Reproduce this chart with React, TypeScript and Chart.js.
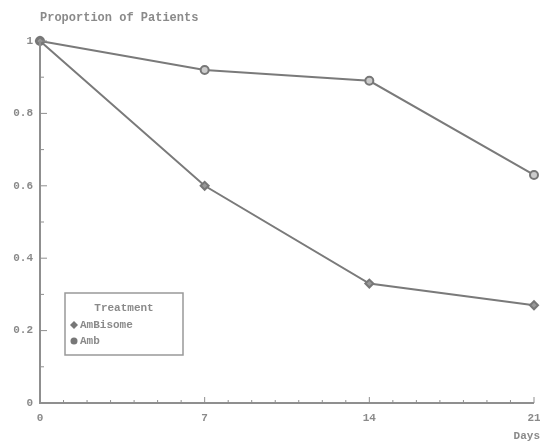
import React, { useEffect, useRef } from "react";
import { Chart, registerables } from "chart.js";

Chart.register(...registerables);

const days = [0, 7, 14, 21];
const ambisome = [1, 0.6, 0.33, 0.27];
const amb = [1, 0.92, 0.89, 0.63];
const xTickLabels = [0, 7, 14, 21];
const yTickLabels = [0, 0.2, 0.4, 0.6, 0.8, 1];
const seriesNames = ["AmBisome", "Amb"];
const legendTitle = "Treatment";
const yTitle = "Proportion of Patients";
const xTitle = "Days";

const FONT = "'Liberation Mono', 'DejaVu Sans Mono', monospace";
const TEXT = "#8a8a8a";
const AXIS = "#8f8f8f";
const LINE = "#7a7a7a";

const decorPlugin = {
  id: "decor",
  afterDraw(chart: any) {
    const ctx = chart.ctx;
    const xs = chart.scales.x;
    const ys = chart.scales.y;
    const ca = chart.chartArea;
    ctx.save();
    ctx.strokeStyle = AXIS;
    ctx.lineWidth = 2;
    ctx.beginPath();
    ctx.moveTo(ca.left, ca.top);
    ctx.lineTo(ca.left, ca.bottom);
    ctx.lineTo(ca.right, ca.bottom);
    ctx.stroke();
    ctx.lineWidth = 1;
    for (let d = 0; d <= 21; d++) {
      const px = xs.getPixelForValue(d);
      const major = d % 7 === 0;
      ctx.beginPath();
      ctx.moveTo(px, ca.bottom);
      ctx.lineTo(px, ca.bottom - (major ? 6 : 3));
      ctx.stroke();
    }
    for (let i = 0; i <= 10; i++) {
      const v = i / 10;
      const py = ys.getPixelForValue(v);
      const major = i % 2 === 0;
      ctx.beginPath();
      ctx.moveTo(ca.left, py);
      ctx.lineTo(ca.left + (major ? 7 : 4), py);
      ctx.stroke();
    }
    ctx.fillStyle = TEXT;
    ctx.textBaseline = "middle";
    ctx.font = "bold 12px " + FONT;
    ctx.textAlign = "left";
    ctx.fillText(yTitle, ca.left, 18);
    ctx.font = "bold 11px " + FONT;
    ctx.textAlign = "right";
    ctx.fillText(xTitle, 540, 436);
    const lx = ca.left + 25;
    const ly = ca.top + 252;
    const lw = 118;
    const lh = 62;
    ctx.strokeStyle = "#999";
    ctx.lineWidth = 1.5;
    ctx.strokeRect(lx, ly, lw, lh);
    ctx.textAlign = "center";
    ctx.fillText(legendTitle, lx + lw / 2, ly + 15);
    ctx.textAlign = "left";
    const rows = [ly + 32, ly + 48];
    seriesNames.forEach((name, i) => {
      const cx = lx + 9;
      const cy = rows[i];
      ctx.fillStyle = "#777";
      ctx.beginPath();
      if (i === 0) {
        ctx.moveTo(cx, cy - 4);
        ctx.lineTo(cx + 4, cy);
        ctx.lineTo(cx, cy + 4);
        ctx.lineTo(cx - 4, cy);
        ctx.closePath();
      } else {
        ctx.arc(cx, cy, 3.5, 0, Math.PI * 2);
      }
      ctx.fill();
      ctx.fillStyle = TEXT;
      ctx.fillText(name, cx + 6, cy);
    });
    ctx.restore();
  },
};

export default function App() {
  const ref = useRef<HTMLCanvasElement | null>(null);
  useEffect(() => {
    if (!ref.current) return;
    const chart = new Chart(ref.current, {
      type: "line",
      data: {
        datasets: [
          {
            label: seriesNames[0],
            data: days.map((d, i) => ({ x: d, y: ambisome[i] })),
            borderColor: LINE,
            backgroundColor: "#777",
            borderWidth: 2,
            pointStyle: "rectRot",
            pointRadius: 4,
            pointBorderColor: "#777",
            pointBackgroundColor: "#999",
            tension: 0,
          },
          {
            label: seriesNames[1],
            data: days.map((d, i) => ({ x: d, y: amb[i] })),
            borderColor: LINE,
            backgroundColor: "#777",
            borderWidth: 2,
            pointStyle: "circle",
            pointRadius: 4,
            pointBorderColor: "#777",
            pointBackgroundColor: "#ccc",
            tension: 0,
          },
        ],
      },
      options: {
        animation: false,
        responsive: false,
        clip: false,
        layout: { padding: { top: 41, right: -3, left: 0, bottom: 0 } },
        plugins: { legend: { display: false }, tooltip: { enabled: false } },
        scales: {
          x: {
            type: "linear",
            min: 0,
            max: 21,
            border: { display: false },
            grid: { display: false, drawTicks: false },
            afterBuildTicks: (s: any) => {
              s.ticks = xTickLabels.map((v) => ({ value: v }));
            },
            afterFit: (s: any) => {
              s.height = 39;
              s.paddingRight = 0;
              s.paddingLeft = 0;
            },
            ticks: {
              color: TEXT,
              font: { family: FONT, size: 11, weight: "bold" },
              padding: 9,
              maxRotation: 0,
              autoSkip: false,
            },
          },
          y: {
            type: "linear",
            min: 0,
            max: 1,
            border: { display: false },
            grid: { display: false, drawTicks: false },
            afterBuildTicks: (s: any) => {
              s.ticks = yTickLabels.map((v) => ({ value: v }));
            },
            afterFit: (s: any) => {
              s.width = 40;
              s.paddingTop = 0;
              s.paddingBottom = 0;
            },
            ticks: {
              color: TEXT,
              font: { family: FONT, size: 11, weight: "bold" },
              padding: 7,
              callback: (v: any) => String(v),
            },
          },
        },
      },
      plugins: [decorPlugin],
    } as any);
    return () => chart.destroy();
  }, []);
  return (
    <div style={{ position: "fixed", left: 0, top: 0, width: 540, height: 442, background: "#fff" }}>
      <canvas ref={ref} width={540} height={442} />
    </div>
  );
}
